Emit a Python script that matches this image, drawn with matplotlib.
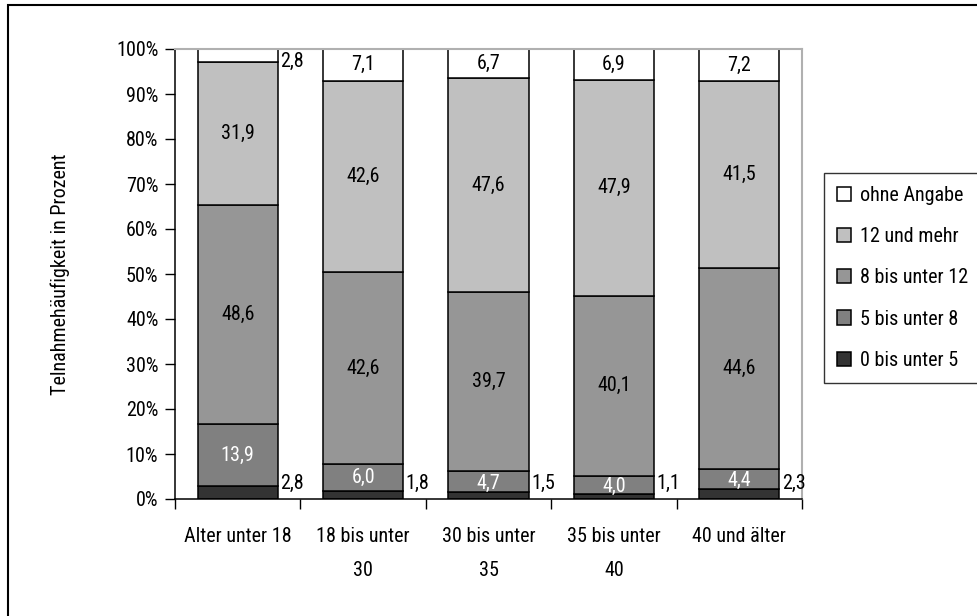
import numpy as np
import matplotlib.pyplot as plt
from matplotlib.patches import Rectangle

plt.rcParams['font.family'] = ['Liberation Sans Narrow', 'Roboto Condensed', 'Liberation Sans']

# Altersgruppen und Anteile je Teilnahmehäufigkeit (Prozent)
gruppen = ["Alter unter 18", "18 bis unter\n30", "30 bis unter\n35", "35 bis unter\n40", "40 und älter"]
kategorien = ["0 bis unter 5", "5 bis unter 8", "8 bis unter 12", "12 und mehr", "ohne Angabe"]
werte_0_5 = [2.8, 1.8, 1.5, 1.1, 2.3]
werte_5_8 = [13.9, 6.0, 4.7, 4.0, 4.4]
werte_8_12 = [48.6, 42.6, 39.7, 40.1, 44.6]
werte_12 = [31.9, 42.6, 47.6, 47.9, 41.5]
werte_ohne = [2.8, 7.1, 6.7, 6.9, 7.2]

farben = ["#333333", "#808080", "#969696", "#c0c0c0", "#ffffff"]
textfarben = [None, "white", "black", "black", "black"]

serien = [werte_0_5, werte_5_8, werte_8_12, werte_12, werte_ohne]
fs = 14.5

fig = plt.figure(figsize=(9.77, 6.16), dpi=100)
ax = fig.add_axes([175/977, 117/616, 627/977, 450/616])

x = np.arange(len(gruppen))
breite = 0.64
unten = np.zeros(len(gruppen))
for werte, farbe, name in zip(serien, farben, kategorien):
    ax.bar(x, werte, breite, bottom=unten, color=farbe, edgecolor="black",
           linewidth=1.1, label=name)
    unten = unten + np.array(werte)

def fmt(v):
    return f"{v:.1f}".replace(".", ",")

# Beschriftungen der Segmente
unten = np.zeros(len(gruppen))
for k, werte in enumerate(serien):
    for i, v in enumerate(werte):
        mitte = unten[i] + v / 2
        if k == 0:
            ax.text(x[i] + breite / 2 + 0.02, 3.5, fmt(v), ha="left", va="center",
                    fontsize=fs, color="black")
        elif k == 4 and v < 4:
            ax.text(x[i] + breite / 2 + 0.02, unten[i], fmt(v), ha="left",
                    va="center", fontsize=fs, color="black")
        else:
            y = mitte if v > 5 else mitte - 0.3
            ax.text(x[i], y, fmt(v), ha="center", va="center", fontsize=fs,
                    color=textfarben[k])
    unten = unten + np.array(werte)

ax.set_xlim(-0.5, len(gruppen) - 0.5)
ax.set_ylim(0, 100)
ax.set_yticks(np.arange(0, 101, 10))
ax.set_yticklabels([f"{t}%" for t in range(0, 101, 10)], fontsize=fs)
ax.set_xticks(x)
ax.set_xticklabels(gruppen, fontsize=fs, linespacing=2.0, va="top")
ax.set_xticks(np.arange(-0.5, len(gruppen)), minor=True)
ax.tick_params(axis="x", which="major", length=0, pad=20)
ax.tick_params(axis="x", which="minor", length=7, width=1)
ax.tick_params(axis="y", length=7, width=1, pad=5)
ax.set_ylabel("Telnahmehäufigkeit in Prozent", fontsize=fs, labelpad=33)

for s in ["top", "right"]:
    ax.spines[s].set_color("#b0b0b0")
    ax.spines[s].set_linewidth(1.5)
for s in ["left", "bottom"]:
    ax.spines[s].set_color("black")
    ax.spines[s].set_linewidth(1.1)

handles, labels = ax.get_legend_handles_labels()
leg = fig.legend(handles[::-1], labels[::-1], loc="upper left",
                 bbox_to_anchor=(824/977, 1 - 173/616), fontsize=fs,
                 frameon=True, fancybox=False, edgecolor="black",
                 handlelength=0.7, handleheight=0.7, handletextpad=0.45,
                 labelspacing=1.1, borderpad=0.65, borderaxespad=0)
leg.get_frame().set_linewidth(1.0)

# Rahmen um die Grafik
fig.patches.append(Rectangle((8/977, -0.1), 1.2, 1 - 5/616 + 0.1,
                             transform=fig.transFigure, fill=False,
                             edgecolor="black", linewidth=1.5))

fig.savefig("out.png", dpi=100)
